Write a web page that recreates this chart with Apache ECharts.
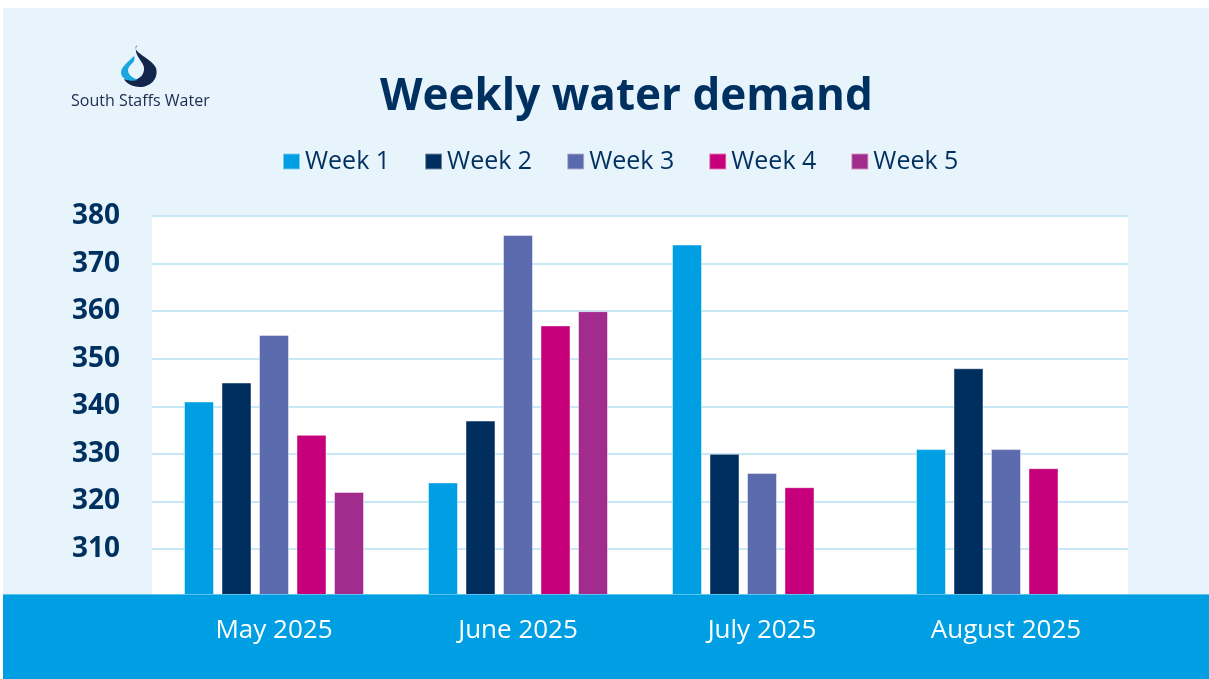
<!DOCTYPE html>
<html>
<head>
<meta charset="utf-8">
<script src="https://cdn.jsdelivr.net/npm/echarts@6/dist/echarts.min.js"></script>
<style>
  html, body { margin: 0; padding: 0; background: #ffffff; }
  #bg { position: absolute; left: 3px; top: 8px; width: 1206px; height: 671px; background: #E8F4FC; }
  #chart { position: absolute; left: 0; top: 0; width: 1209px; height: 679px; }
</style>
</head>
<body>
<div id="bg"></div>
<div id="chart"></div>
<script>
const categories = ['May 2025', 'June 2025', 'July 2025', 'August 2025'];
const seriesNames = ['Week 1', 'Week 2', 'Week 3', 'Week 4', 'Week 5'];
const week1 = [341, 324, 374, 331];
const week2 = [345, 337, 330, 348];
const week3 = [355, 376, 326, 331];
const week4 = [334, 357, 323, 327];
const week5 = [322, 360, null, null];
const yTicks = [300, 310, 320, 330, 340, 350, 360, 370, 380];
const colors = ['#009FE3', '#002F5F', '#5B6AAC', '#C5007A', '#A12C8E'];

const navy = '#00305F';
const allWeeks = [week1, week2, week3, week4, week5];

const logoSvg = '<svg xmlns="http://www.w3.org/2000/svg" width="40" height="44" viewBox="120 44 40 44">' +
  '<path d="M137,45 C130,52 152,58 156,68 C159,79 150,87 140,87 C132,87 126,83 124,79 C133,82 143,79 144,70 C145,61 132,56 137,45 Z" fill="#12254A"/>' +
  '<path d="M134,56 C127,63 121,67 121,73 C122,80 130,82 138,80 C130,77 126,72 129,67 C132,63 136,61 134,56 Z" fill="#1AA7E1"/>' +
  '</svg>';
const logoUrl = 'data:image/svg+xml;charset=utf-8,' + encodeURIComponent(logoSvg);

const chart = echarts.init(document.getElementById('chart'), null, { renderer: 'canvas' });
chart.setOption({
  backgroundColor: 'transparent',
  animation: false,
  color: colors,
  title: {
    text: 'Weekly water demand',
    left: 375,
    top: 70,
    textStyle: { fontFamily: 'Open Sans', fontWeight: 'bold', fontSize: 44, color: navy }
  },
  legend: {
    data: seriesNames,
    left: 277,
    top: 144,
    itemWidth: 17,
    itemHeight: 16,
    itemGap: 34,
    icon: 'rect',
    textStyle: { fontFamily: 'Open Sans', fontSize: 25, color: navy }
  },
  grid: {
    left: 152, right: 81, top: 216, bottom: 82.4,
    show: true, backgroundColor: '#ffffff', borderWidth: 0
  },
  xAxis: {
    type: 'category',
    data: categories,
    z: 10,
    axisLine: { show: false },
    axisTick: { show: false },
    axisLabel: { color: '#ffffff', fontFamily: 'Open Sans', fontSize: 26, margin: 21 }
  },
  yAxis: {
    type: 'value',
    min: yTicks[0],
    max: yTicks[yTicks.length - 1],
    interval: 10,
    axisLine: { show: false },
    axisTick: { show: false },
    splitLine: { lineStyle: { color: '#C8E8F8', width: 2 } },
    axisLabel: {
      color: navy, fontFamily: 'Open Sans', fontWeight: 'bold', fontSize: 28, margin: 32,
      showMinLabel: false,
      formatter: v => (v === yTicks[0] ? '' : String(v))
    }
  },
  graphic: [
    {
      type: 'rect', z: 5,
      shape: { x: 3, y: 594, width: 1206, height: 85 },
      style: { fill: '#009FE3' }
    },
    {
      type: 'line', z: 5,
      shape: { x1: 3, y1: 594.5, x2: 1209, y2: 594.5 },
      style: { stroke: '#5CC3EE', lineWidth: 1 }
    },
    {
      type: 'image', z: 6,
      style: { image: logoUrl, x: 120, y: 44, width: 40, height: 44 }
    },
    {
      type: 'text', z: 6,
      style: { x: 71, y: 101, text: 'South Staffs Water', font: '16px "Open Sans"', fill: '#1E2A4F', textVerticalAlign: 'middle' }
    }
  ],
  series: seriesNames.map((name, i) => ({
    name: name,
    type: 'bar',
    z: 2,
    data: allWeeks[i],
    barWidth: 30,
    barGap: '25%',
    itemStyle: { color: colors[i], borderColor: 'rgba(255,255,255,0.45)', borderWidth: 1 }
  }))
});
</script>
</body>
</html>
